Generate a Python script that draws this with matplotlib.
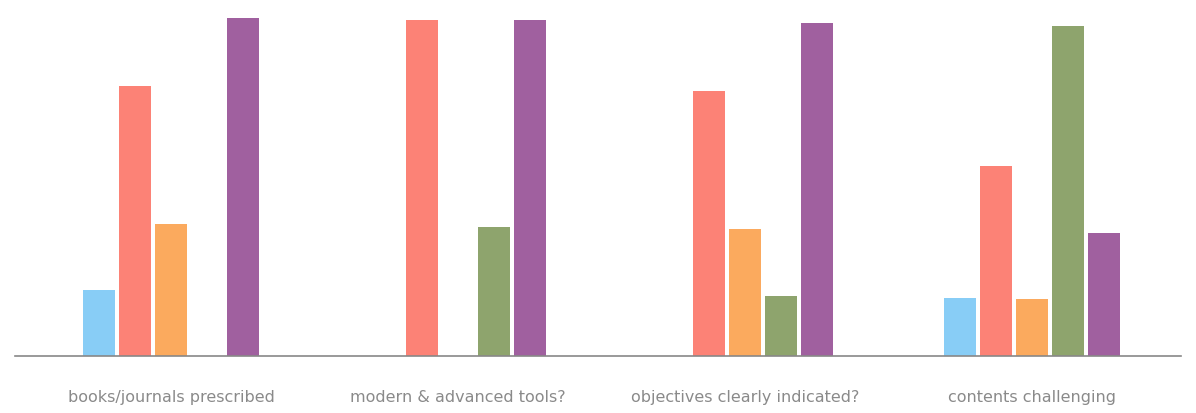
import matplotlib
matplotlib.use('Agg')
import matplotlib.pyplot as plt
import numpy as np

categories = ['books/journals prescribed', 'modern & advanced tools?',
              'objectives clearly indicated?', 'contents challenging']
series_names = ['blue', 'red', 'orange', 'green', 'purple']
blue = [66, 0, 0, 58]
red = [269, 335, 264, 190]
orange = [132, 0, 127, 57]
green = [0, 129, 60, 329]
purple = [337, 335, 332, 123]
colors = ['#88cdf6', '#fc8276', '#fbaa5e', '#8ea46d', '#a0609f']

fig = plt.figure(figsize=(11.96, 4.14), dpi=100)
ax = fig.add_axes([0.0125, 0.138, 0.975, 0.83])

x = np.arange(len(categories))
step = 0.125
width = 0.112
for i, vals in enumerate([blue, red, orange, green, purple]):
    ax.bar(x + (i - 2) * step, vals, width, color=colors[i])

ax.set_xlim(-0.544, 3.52)
ax.set_ylim(0, 343)
for s in ['top', 'right', 'left']:
    ax.spines[s].set_visible(False)
ax.spines['bottom'].set_color('#888888')
ax.spines['bottom'].set_linewidth(1.2)
ax.set_yticks([])
ax.set_xticks(x)
ax.set_xticklabels(categories, fontsize=11.5, color='#8a8a8a')
ax.tick_params(axis='x', length=0, pad=24)

plt.savefig('out.png', dpi=100)
